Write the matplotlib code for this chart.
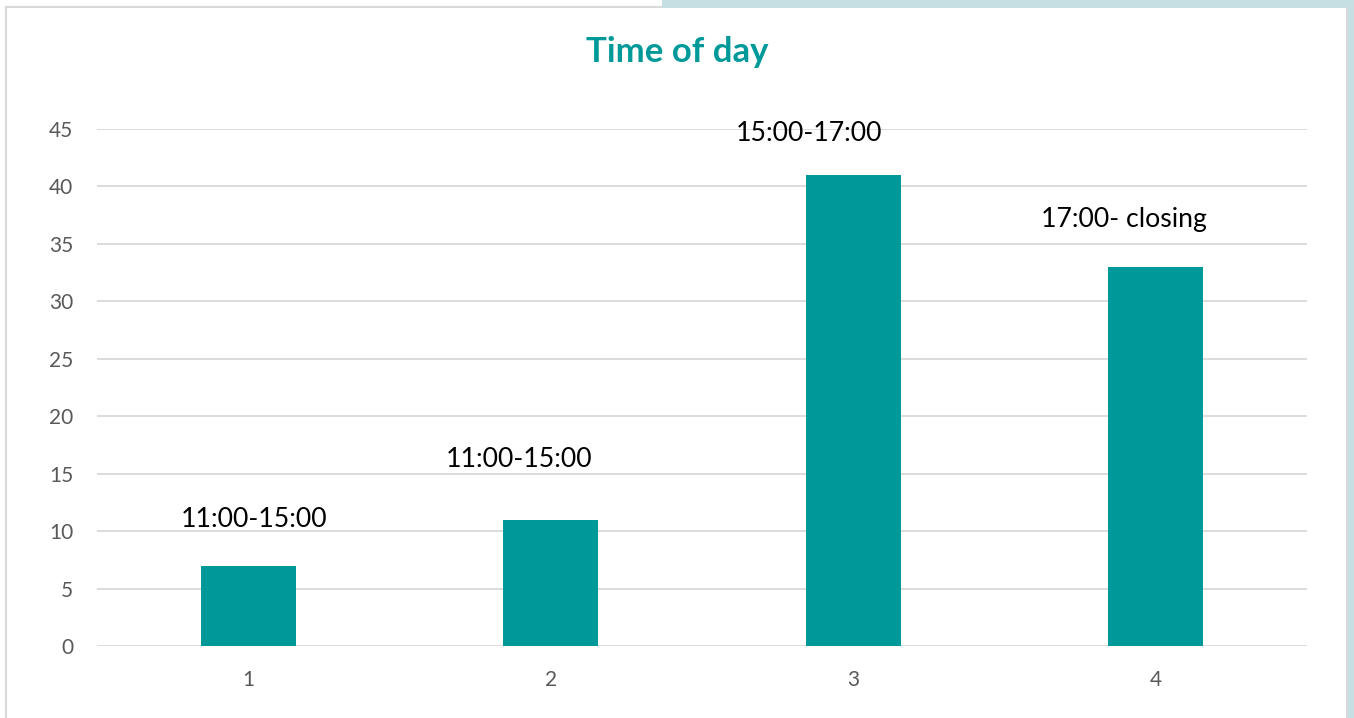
import matplotlib.pyplot as plt
from matplotlib.patches import Rectangle
from matplotlib.lines import Line2D

# Visit counts per time slot
slots = [1, 2, 3, 4]
counts = [7, 11, 41, 33]
slot_labels = ["11:00-15:00", "11:00-15:00", "15:00-17:00", "17:00- closing"]
y_ticks = [0, 5, 10, 15, 20, 25, 30, 35, 40, 45]

# hand-placed label offsets (points) from each bar top
label_dx = [4.3, -23, -31.7, -23]
label_dy = [28, 38.2, 24.5, 28.8]

TEAL = "#009999"
GRID = "#d9d9d9"
TICK = "#595959"

plt.rcParams['font.family'] = ['Lato', 'DejaVu Sans']

W, H = 1354, 718
fig = plt.figure(figsize=(W / 100, H / 100), dpi=100)
ax = fig.add_axes([97 / W, 1 - 646 / H, 1210 / W, 517 / H])

ax.bar(slots, counts, width=0.314, color=TEAL, zorder=3)
for xs, val, lab, dx, dy in zip(slots, counts, slot_labels, label_dx, label_dy):
    ax.annotate(lab, (xs, val), xytext=(dx, dy), textcoords="offset points",
                ha="center", va="baseline", fontsize=19.2, color="black")

ax.set_xlim(0.5, 4.5)
ax.set_ylim(0, 45)
ax.set_xticks(slots)
ax.set_yticks(y_ticks)
ax.tick_params(length=0, labelsize=15, labelcolor=TICK)
ax.tick_params(axis="x", pad=17)
ax.tick_params(axis="y", pad=17)
ax.grid(axis="y", color=GRID, linewidth=1.3, zorder=0)
for s in ax.spines.values():
    s.set_visible(False)

fig.text(677 / W, 1 - 52 / H, "Time of day", ha="center", va="center",
         fontsize=25, fontweight="bold", color=TEAL)

# chart frame and surrounding band
def px_line(x0, y0, x1, y1, color, lw):
    fig.add_artist(Line2D([x0 / W, x1 / W], [1 - y0 / H, 1 - y1 / H],
                          transform=fig.transFigure, color=color, linewidth=lw))

fig.add_artist(Rectangle((662 / W, 1 - 8 / H), (W - 662) / W, 8 / H,
                         transform=fig.transFigure, color="#c5dfe3", lw=0))
fig.add_artist(Rectangle((1348 / W, 0), 6 / W, 1,
                         transform=fig.transFigure, color="#c5dfe3", lw=0))
px_line(6, 7, 662, 7, GRID, 1.5)
px_line(6, 7, 6, H, GRID, 1.5)
px_line(1347, 8, 1347, H, GRID, 1.5)

fig.savefig("out.png", dpi=100)
